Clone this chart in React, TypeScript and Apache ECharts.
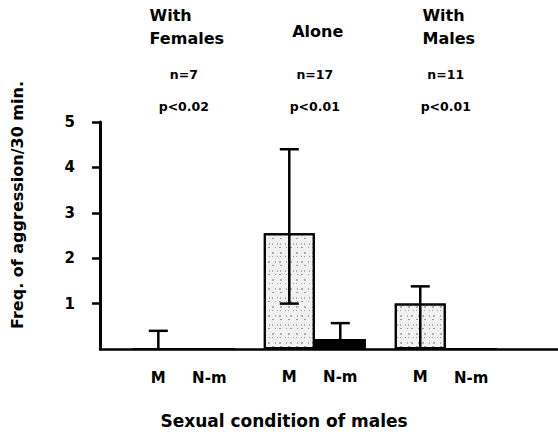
import React, { useEffect, useRef } from "react";
import * as echarts from "echarts";

// ---- data ----
const GROUPS = ["With Females", "Alone", "With Males"];
const HEADER_LINES = [["With", "Females"], ["Alone"], ["With", "Males"]];
const N_LABELS = ["n=7", "n=17", "n=11"];
const P_LABELS = ["p<0.02", "p<0.01", "p<0.01"];
const BAR_NAMES = ["M", "N-m"];
const M_VALUES = [0, 2.55, 1.0];
const NM_VALUES = [0, 0.22, 0];
const M_ERR_LOW = [0, 1.0, 0];
const M_ERR_HIGH = [0.4, 4.4, 1.38];
const NM_ERR_LOW = [null, 0, null];
const NM_ERR_HIGH = [null, 0.57, null];
const Y_TICKS = [1, 2, 3, 4, 5];
const Y_TITLE = "Freq. of aggression/30 min.";
const X_TITLE = "Sexual condition of males";

// ---- style ----
const FONT = '"DejaVu Sans", sans-serif';
const BAR_W = 51;
const CAP_W = 19;

function measure(text: string, size: number) {
  const c = document.createElement("canvas").getContext("2d");
  if (!c) return text.length * size * 0.65;
  c.font = `bold ${size}px "DejaVu Sans"`;
  return c.measureText(text).width;
}

export default function App() {
  const ref = useRef<HTMLDivElement>(null);
  useEffect(() => {
    if (!ref.current) return;
    const chart = echarts.init(ref.current, null, { renderer: "svg" });

    const barData = (vals: number[]) => vals.map((v, i) => [i, v]);
    const errRows: number[][] = [];
    GROUPS.forEach((_, i) => {
      errRows.push([i, -1, M_ERR_LOW[i], M_ERR_HIGH[i]]);
      if (NM_ERR_HIGH[i] != null) errRows.push([i, 1, NM_ERR_LOW[i] as number, NM_ERR_HIGH[i] as number]);
    });

    const labelStyle = (txt: string) => ({
      show: true,
      position: "bottom",
      distance: 20,
      formatter: () => txt,
      fontFamily: FONT,
      fontWeight: "bold",
      fontSize: 15,
      color: "#000",
    });

    chart.setOption({
      animation: false,
      aria: { enabled: true, decal: { show: true } },
      textStyle: { fontFamily: FONT, fontWeight: "bold", color: "#000" },
      grid: { left: 100, right: 0, top: 122, bottom: 83 },
      xAxis: {
        type: "value",
        min: -0.64,
        max: 2.857,
        axisLine: { show: true, onZero: false, lineStyle: { color: "#000", width: 2.5 } },
        axisTick: { show: false },
        axisLabel: { show: false },
        splitLine: { show: false },
      },
      yAxis: {
        type: "value",
        min: 0,
        max: 5,
        interval: 1,
        axisLine: { show: true, onZero: false, lineStyle: { color: "#000", width: 3 } },
        axisTick: { show: true, length: 8, customValues: Y_TICKS, lineStyle: { color: "#000", width: 2.5 } },
        axisLabel: {
          customValues: Y_TICKS,
          margin: 25,
          fontFamily: FONT,
          fontWeight: "bold",
          fontSize: 15,
          color: "#000",
        },
        splitLine: { show: false },
      },
      series: [
        {
          name: BAR_NAMES[0],
          type: "bar",
          data: barData(M_VALUES),
          barWidth: BAR_W,
          barGap: "0%",
          itemStyle: {
            color: "#f1f1f1",
            borderColor: "#000",
            borderWidth: 2,
            decal: {
              symbol: "rect",
              symbolSize: 0.8,
              color: "rgba(20,20,20,0.5)",
              dashArrayX: [[1, 3, 2, 5], [2, 6], [1, 4, 1, 2]],
              dashArrayY: [2, 2, 1, 4],
              rotation: 0,
            },
          },
          label: labelStyle(BAR_NAMES[0]),
          z: 2,
        },
        {
          name: BAR_NAMES[1],
          type: "bar",
          data: barData(NM_VALUES),
          barWidth: BAR_W,
          barGap: "0%",
          itemStyle: {
            color: "#000",
            borderColor: "#000",
            borderWidth: 2,
            decal: { symbol: "none" },
          },
          label: labelStyle(BAR_NAMES[1]),
          z: 2,
        },
        {
          type: "custom",
          data: errRows,
          z: 5,
          renderItem: (params: any, api: any) => {
            const g = api.value(0);
            const side = api.value(1);
            const lo = api.value(2);
            const hi = api.value(3);
            const pHi = api.coord([g, hi]);
            const pLo = api.coord([g, lo]);
            const x = pHi[0] + (side * BAR_W) / 2;
            const st = { stroke: "#000", lineWidth: 2.5 };
            const children: any[] = [
              { type: "line", shape: { x1: x, y1: pHi[1], x2: x, y2: pLo[1] }, style: st },
              { type: "line", shape: { x1: x - CAP_W / 2, y1: pHi[1], x2: x + CAP_W / 2, y2: pHi[1] }, style: st },
            ];
            if (lo > 0) {
              children.push({
                type: "line",
                shape: { x1: x - CAP_W / 2, y1: pLo[1], x2: x + CAP_W / 2, y2: pLo[1] },
                style: st,
              });
            }
            return { type: "group", children };
          },
        },
      ],
    });

    const centers = GROUPS.map((_, i) => chart.convertToPixel({ xAxisIndex: 0 }, i) as number);
    const graphics: any[] = [];
    const headerY: Record<number, number[]> = { 1: [31], 2: [15, 38] };
    centers.forEach((cx, i) => {
      const lines = HEADER_LINES[i];
      const w = Math.max(...lines.map((l) => measure(l, 16)));
      lines.forEach((l, k) => {
        graphics.push({
          type: "text",
          x: cx - w / 2 + 3,
          y: headerY[lines.length][k],
          style: { text: l, font: `bold 16px ${FONT}`, fill: "#000", align: "left", verticalAlign: "middle" },
        });
      });
      graphics.push({
        type: "text",
        x: cx,
        y: 74,
        style: { text: N_LABELS[i], font: `bold 12.5px ${FONT}`, fill: "#000", align: "center", verticalAlign: "middle" },
      });
      graphics.push({
        type: "text",
        x: cx,
        y: 106,
        style: { text: P_LABELS[i], font: `bold 12.5px ${FONT}`, fill: "#000", align: "center", verticalAlign: "middle" },
      });
    });
    graphics.push({
      type: "text",
      x: 284,
      y: 421,
      style: { text: X_TITLE, font: `bold 17px ${FONT}`, fill: "#000", align: "center", verticalAlign: "middle" },
    });
    graphics.push({
      type: "text",
      x: 17,
      y: 205,
      rotation: Math.PI / 2,
      style: { text: Y_TITLE, font: `bold 16px ${FONT}`, fill: "#000", align: "center", verticalAlign: "middle" },
    });
    chart.setOption({ graphic: graphics });

    return () => chart.dispose();
  }, []);

  return (
    <div
      ref={ref}
      style={{ position: "fixed", left: 0, top: 0, width: 558, height: 432, background: "#fff" }}
    />
  );
}
